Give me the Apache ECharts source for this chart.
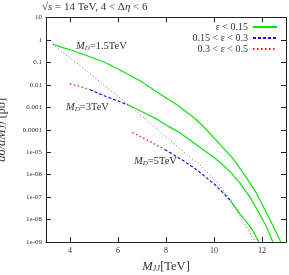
<!DOCTYPE html>
<html><head><meta charset="utf-8">
<script src="https://cdn.jsdelivr.net/npm/echarts@6/dist/echarts.min.js"></script>
<style>html,body{margin:0;padding:0;background:#fff}#c{width:289px;height:275px}</style>
</head><body><div id="c"></div>
<script>
// ---- tick labels ----
const xTicks = [4, 6, 8, 10, 12];
const yTicks = [10, 1, 0.1, 0.01, 0.001, 0.0001, 1e-5, 1e-6, 1e-7, 1e-8, 1e-9];
const yTickLabels = ['10', '1', '0.1', '0.01', '0.001', '0.0001', '1e-05', '1e-06', '1e-07', '1e-08', '1e-09'];
const legendNames = ['ε < 0.15', '0.15 < ε < 0.3', '0.3 < ε < 0.5'];

// ---- M_D = 1.5 TeV (all eps < 0.15) ----
const md15GreenX = [3.28, 3.7, 4.14, 4.83, 5.53, 6.08, 6.92, 7.75, 8.5, 9.21, 9.69, 10.25, 10.8, 11.22, 11.7, 12.05, 12.45, 12.78];
const md15GreenY = [0.646, 0.457, 0.331, 0.178, 0.0912, 0.0457, 0.0151, 0.00389, 0.0012, 3.16e-4, 1.0e-4, 2.24e-5, 5.0e-6, 1.17e-6, 2.0e-7, 3.8e-8, 5.6e-9, 1.0e-9];

// ---- M_D = 3 TeV ----
const md3RedX = [4.0, 4.4, 4.83];
const md3RedY = [0.0112, 0.0085, 0.00603];
const md3BlueX = [4.83, 5.53, 6.0, 6.43];
const md3BlueY = [0.00603, 0.00295, 0.00191, 0.00126];
const md3GreenX = [6.43, 6.92, 7.68, 8.1, 8.58, 9.21, 9.8, 10.25, 10.7, 11.08, 11.5, 11.85, 12.2, 12.45];
const md3GreenY = [1.26e-3, 7.08e-4, 2.75e-4, 1.41e-4, 7.4e-5, 2.4e-5, 8.3e-6, 3.55e-6, 1.26e-6, 4.2e-7, 1.0e-7, 2.24e-8, 4.5e-9, 1.0e-9];

// ---- M_D = 5 TeV ----
const md5RedX = [6.6, 7.2, 7.95];
const md5RedY = [7.6e-5, 3.55e-5, 1.32e-5];
const md5BlueX = [7.95, 8.79, 9.2, 9.625, 10.1, 10.68];
const md5BlueY = [1.32e-5, 3.8e-6, 1.9e-6, 8.3e-7, 3.16e-7, 7.1e-8];
const md5GreenX = [10.68, 11.08, 11.36, 11.62, 11.87];
const md5GreenY = [7.1e-8, 1.78e-8, 7.9e-9, 3.16e-9, 1.0e-9];

// ---- grey dotted reference curve ----
const refX = [3.28, 4.83, 6.43, 7.61, 8.8, 9.35, 10.18, 10.6, 11.22, 11.72];
const refY = [0.646, 0.0316, 1.32e-3, 1.12e-4, 8.9e-6, 3.16e-6, 3.98e-7, 1.0e-7, 7.9e-9, 1.0e-9];

const pairs = (xs, ys) => xs.map((x, i) => [x, ys[i]]);
const FONT = 'Liberation Serif';
const TXT = '#333';

const green = { color: '#11e011', width: 1.2, type: 'solid' };
const blue = { color: '#1010ff', width: 1.2, type: [3, 2] };
const red = { color: '#ff1010', width: 1.2, type: [1.5, 2.5] };
const grey = { color: '#7c7c7c', width: 1, type: [1.2, 2.2] };

function line(name, xs, ys, style, z) {
  return {
    type: 'line', name: name, data: pairs(xs, ys), showSymbol: false, symbol: 'none',
    lineStyle: style, itemStyle: { color: style.color }, z: z || 2, silent: true, clip: true
  };
}

const chart = echarts.init(document.getElementById('c'), null, { renderer: 'canvas' });
const tickStyle = { color: '#222', width: 1 };
const axisLineStyle = { color: '#222', width: 1 };
const nameRich = {
  i: { fontFamily: FONT, fontStyle: 'italic', fontSize: 12.5, color: TXT, verticalAlign: 'bottom', lineHeight: 13 },
  s: { fontFamily: FONT, fontStyle: 'italic', fontSize: 8.5, color: TXT, verticalAlign: 'bottom', lineHeight: 8 },
  n: { fontFamily: FONT, fontSize: 12.5, color: TXT, verticalAlign: 'bottom', lineHeight: 13 }
};

chart.setOption({
  animation: false,
  backgroundColor: '#fff',
  grid: { left: 46, right: 3, top: 17.5, bottom: 33, containLabel: false, outerBoundsMode: 'none' },
  legend: {
    orient: 'vertical', right: 11, top: 22, padding: 0, align: 'right',
    itemWidth: 24, itemHeight: 8, itemGap: 1,
    itemStyle: { opacity: 0 },
    textStyle: { fontFamily: FONT, fontSize: 10, color: TXT, lineHeight: 9 },
    data: legendNames
  },
  xAxis: [{
    type: 'value', min: 3, max: 13, position: 'bottom',
    axisLine: { show: true, onZero: false, lineStyle: axisLineStyle },
    axisTick: { show: true, inside: true, length: 5, customValues: xTicks, lineStyle: tickStyle },
    axisLabel: { customValues: xTicks, fontFamily: FONT, fontSize: 8, color: TXT, margin: 5 },
    splitLine: { show: false },
    name: '{i|M}{s|JJ}{n|[TeV]}', nameLocation: 'middle', nameGap: 16,
    nameTextStyle: { rich: nameRich }
  }, {
    type: 'value', min: 3, max: 13, position: 'top',
    axisLine: { show: true, onZero: false, lineStyle: axisLineStyle },
    axisTick: { show: true, inside: true, length: 5, customValues: xTicks, lineStyle: tickStyle },
    axisLabel: { show: false }, splitLine: { show: false }
  }],
  yAxis: [{
    type: 'log', logBase: 10, min: 1e-9, max: 10, position: 'left',
    axisLine: { show: true, onZero: false, lineStyle: axisLineStyle },
    axisTick: { show: true, inside: true, length: 5, customValues: yTicks, lineStyle: tickStyle },
    axisLabel: {
      customValues: yTicks, fontFamily: FONT, fontSize: 7, color: TXT, margin: 4,
      formatter: v => {
        const k = yTicks.findIndex(t => Math.abs(Math.log10(t) - Math.log10(v)) < 1e-6);
        return k >= 0 ? yTickLabels[k] : '';
      }
    },
    splitLine: { show: false }, minorTick: { show: false },
    name: '{i|dσ/dM}{s|JJ}{n| [pb]}', nameLocation: 'middle', nameGap: 38, nameRotate: 90,
    nameTextStyle: { rich: nameRich }
  }, {
    type: 'log', logBase: 10, min: 1e-9, max: 10, position: 'right',
    axisLine: { show: true, onZero: false, lineStyle: axisLineStyle },
    axisTick: { show: true, inside: true, length: 5, customValues: yTicks, lineStyle: tickStyle },
    axisLabel: { show: false }, splitLine: { show: false }
  }],
  series: [
    line('', refX, refY, grey, 1),
    line(legendNames[0], md15GreenX, md15GreenY, green),
    line(legendNames[2], md3RedX, md3RedY, red),
    line(legendNames[1], md3BlueX, md3BlueY, blue),
    line(legendNames[0], md3GreenX, md3GreenY, green),
    line(legendNames[2], md5RedX, md5RedY, red),
    line(legendNames[1], md5BlueX, md5BlueY, blue),
    line(legendNames[0], md5GreenX, md5GreenY, green)
  ],
  graphic: [
    mdLabel('1.5TeV', 76, 41),
    mdLabel('3TeV', 66, 102),
    mdLabel('5TeV', 134, 156),
    {
      type: 'text', left: 42, top: 2, silent: true,
      style: {
        text: '{n|√}{i|s}{n| = 14 TeV, 4 < Δ}{i|η}{n| < 6}',
        rich: {
          n: { fontFamily: FONT, fontSize: 11, fill: TXT },
          i: { fontFamily: FONT, fontStyle: 'italic', fontSize: 11, fill: TXT }
        }
      }
    }
  ]
});

function mdLabel(val, x, y) {
  return {
    type: 'text', left: x, top: y, silent: true,
    style: {
      text: '{i|M}{s|D}{n|=' + val + '}',
      rich: {
        i: { fontFamily: FONT, fontStyle: 'italic', fontSize: 10.5, fill: TXT, verticalAlign: 'bottom', lineHeight: 11 },
        s: { fontFamily: FONT, fontStyle: 'italic', fontSize: 7, fill: TXT, verticalAlign: 'bottom', lineHeight: 7 },
        n: { fontFamily: FONT, fontSize: 10.5, fill: TXT, verticalAlign: 'bottom', lineHeight: 11 }
      }
    }
  };
}
</script>
</body></html>
